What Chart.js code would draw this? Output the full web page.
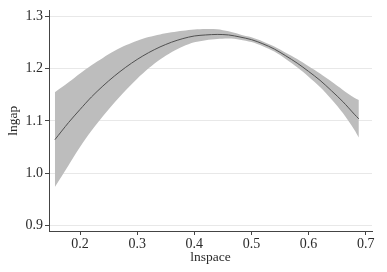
<!DOCTYPE html>
<html>
<head>
<meta charset="utf-8">
<script src="https://cdn.jsdelivr.net/npm/chart.js@4/dist/chart.umd.min.js"></script>
<style>
html,body{margin:0;padding:0;background:#fff;}
#c{display:block;}
</style>
</head>
<body>
<canvas id="c" width="387" height="272"></canvas>
<script>
// lnspace values (x)
const lnspace = [0.156,0.18,0.20,0.22,0.24,0.26,0.28,0.30,0.32,0.34,0.36,0.38,0.40,0.42,0.44,0.46,0.48,0.50,0.52,0.54,0.56,0.58,0.60,0.62,0.64,0.66,0.68,0.688];
// fitted lngap (quadratic fit line)
const fitted = [1.064,1.097,1.122,1.146,1.167,1.186,1.203,1.218,1.231,1.242,1.251,1.258,1.263,1.265,1.266,1.265,1.261,1.256,1.248,1.238,1.225,1.211,1.195,1.178,1.158,1.137,1.113,1.104];
// confidence band upper / lower
const ciUpper = [1.155,1.174,1.191,1.207,1.221,1.234,1.245,1.254,1.261,1.266,1.270,1.273,1.2755,1.2765,1.276,1.272,1.266,1.2605,1.2525,1.243,1.231,1.219,1.205,1.191,1.1755,1.1595,1.1445,1.140];
const ciLower = [0.973,1.015,1.050,1.081,1.109,1.135,1.159,1.181,1.201,1.218,1.232,1.243,1.251,1.255,1.257,1.258,1.256,1.2515,1.2435,1.233,1.219,1.203,1.185,1.165,1.1415,1.115,1.083,1.068];
// tick labels
const xTicks = [0.2,0.3,0.4,0.5,0.6,0.7];
const yTicks = [0.9,1.0,1.1,1.2,1.3];

const pts = arr => arr.map((v,i)=>({x:lnspace[i], y:v}));
const font = {family:"'Liberation Serif','Times New Roman',serif", size:14};
const txt = '#2a2a2a';

new Chart(document.getElementById('c'), {
  type:'line',
  data:{
    datasets:[
      {label:'upper', data:pts(ciUpper), borderWidth:0, borderColor:'rgba(0,0,0,0)', backgroundColor:'#bdbdbd', fill:'+1', pointRadius:0, tension:0.3, order:2},
      {label:'lower', data:pts(ciLower), borderWidth:0, borderColor:'rgba(0,0,0,0)', backgroundColor:'#bdbdbd', fill:false, pointRadius:0, tension:0.3, order:2},
      {label:'fit', data:pts(fitted), borderWidth:1, borderColor:'#505050', fill:false, pointRadius:0, tension:0.3, order:1}
    ]
  },
  options:{
    responsive:false,
    animation:false,
    devicePixelRatio:1,
    layout:{padding:{left:0,right:15,top:5,bottom:0}},
    plugins:{legend:{display:false}, tooltip:{enabled:false}},
    scales:{
      x:{
        type:'linear', min:0.1457, max:0.711,
        afterBuildTicks: s => { s.ticks = xTicks.map(v=>({value:v})); },
        afterFit: s => { s.height = 41; },
        ticks:{font:font, color:txt, padding:1, maxRotation:0, autoSkip:false, callback:v=>Number(v).toFixed(1)},
        grid:{drawOnChartArea:false, tickLength:4, tickColor:'#444'},
        border:{color:'#444', width:1},
        title:{display:true, text:'lnspace', font:{family:font.family, size:13.5}, color:txt, padding:{top:0,bottom:6}}
      },
      y:{
        type:'linear', min:0.8888, max:1.3121,
        afterBuildTicks: s => { s.ticks = yTicks.map(v=>({value:v})); },
        afterFit: s => { s.width = 49; },
        ticks:{font:font, color:txt, padding:2, autoSkip:false, callback:v=>Number(v).toFixed(1)},
        grid:{color:'#e8e8e8', tickColor:'#444', tickLength:4, lineWidth:1},
        border:{color:'#444', width:1},
        title:{display:true, text:'lngap', font:{family:font.family, size:13.5}, color:txt, padding:{top:5,bottom:0}}
      }
    }
  }
});
</script>
</body>
</html>
